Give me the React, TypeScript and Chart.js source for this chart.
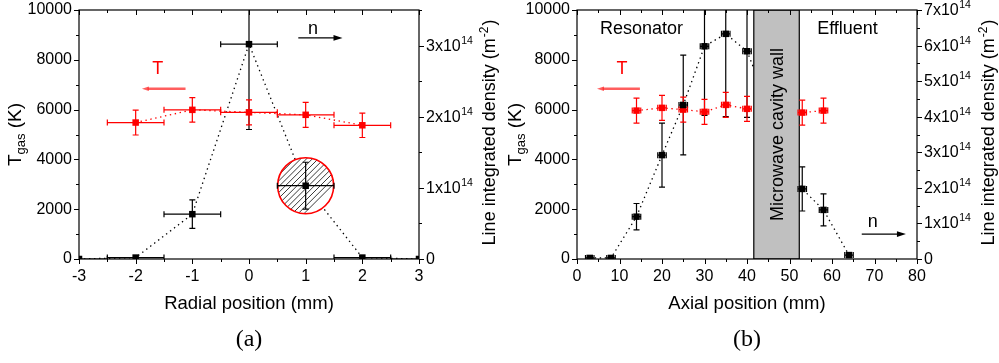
import React, { useEffect, useRef } from "react";
import { Chart, registerables } from "chart.js";
Chart.register(...registerables);

// ---------------- Panel (a): radial profile ----------------
const radialPos = [-3, -2, -1, 0, 1, 2, 3]; // mm
const radialPosErr = [0.5, 0.5, 0.5, 0.5, 0.5, 0.5, 0.5];
const radialDensity = [0, 0.02, 0.63, 3.02, 1.03, 0.02, 0]; // x1e14 m^-2
const radialDensityErr = [0, 0, 0.2, 1.2, 0.33, 0, 0];
const radialTPos = [-2, -1, 0, 1, 2];
const radialTPosErr = [0.5, 0.5, 0.5, 0.5, 0.5];
const radialT = [5480, 5990, 5890, 5790, 5370]; // K
const radialTErr = [500, 490, 500, 500, 490];

// ---------------- Panel (b): axial profile ----------------
const axialPos = [3, 8, 14, 20, 25, 30, 35, 40, 53, 58, 64]; // mm
const axialPosErr = [1, 1, 1, 1, 1, 1, 1, 1, 1, 1, 1];
const axialDensity = [0.03, 0.03, 1.19, 2.92, 4.33, 5.98, 6.33, 5.84, 1.97, 1.38, 0.11]; // x1e14 m^-2
const axialDensityErr = [0, 0, 0.37, 0.9, 1.4, 1.94, 2.33, 1.86, 0.62, 0.45, 0];
const axialTPos = [14, 20, 25, 30, 35, 40, 53, 58];
const axialTPosErr = [1, 1, 1, 1, 1, 1, 1, 1];
const axialT = [5960, 6070, 6000, 5910, 6190, 6030, 5880, 5960]; // K
const axialTErr = [500, 500, 500, 500, 500, 500, 500, 500];

// wall region (mm)
const wallRange = [41.6, 52.3];

// axes
const tempMax = 10000;
const tempStep = 2000;
const radialDensityMax = 3.5;
const axialDensityMax = 7;

const SANS = '"Liberation Sans", Arial, sans-serif';
const SERIF = '"Liberation Serif", "Times New Roman", serif';

type Txt = { text: string; x: number; y: number; color: string; align: CanvasTextAlign; size: number };
type Arrow = { x1: number; x2: number; y: number; color: string; lw: number; head: number };
type Panel = {
  width: number;
  leftW: number;
  rightW: number;
  xMin: number;
  xMax: number;
  xStep: number;
  xMinor: number;
  y2Max: number;
  xTitle: string;
  caption: string;
  nPos: number[];
  nPosErr: number[];
  n: number[];
  nErr: number[];
  tPos: number[];
  tPosErr: number[];
  t: number[];
  tErr: number[];
  texts: Txt[];
  arrows: Arrow[];
  decor: (chart: any) => void;
};

function hatchedCircle(chart: any, xv: number, yv: number) {
  const ctx = chart.ctx;
  const cx = chart.scales.x.getPixelForValue(xv);
  const cy = chart.scales.y2.getPixelForValue(yv);
  const r = 28;
  ctx.save();
  ctx.beginPath();
  ctx.arc(cx, cy, r, 0, Math.PI * 2);
  ctx.fillStyle = "#fff";
  ctx.fill();
  ctx.clip();
  ctx.strokeStyle = "#222";
  ctx.lineWidth = 0.9;
  for (let k = -2 * r; k <= 2 * r; k += 5.8) {
    ctx.beginPath();
    ctx.moveTo(cx - 2 * r + k, cy + r);
    ctx.lineTo(cx + k, cy - r);
    ctx.stroke();
  }
  ctx.restore();
  ctx.save();
  ctx.beginPath();
  ctx.arc(cx, cy, r, 0, Math.PI * 2);
  ctx.strokeStyle = "#ff0000";
  ctx.lineWidth = 1.6;
  ctx.stroke();
  ctx.restore();
}

function cavityWall(chart: any) {
  const ctx = chart.ctx;
  const a = chart.chartArea;
  const x1 = chart.scales.x.getPixelForValue(wallRange[0]);
  const x2 = chart.scales.x.getPixelForValue(wallRange[1]);
  ctx.save();
  ctx.fillStyle = "#c0c0c0";
  ctx.fillRect(x1, a.top, x2 - x1, a.bottom - a.top);
  ctx.strokeStyle = "#000";
  ctx.lineWidth = 1.2;
  ctx.strokeRect(x1, a.top, x2 - x1, a.bottom - a.top);
  ctx.translate((x1 + x2) / 2 + 1.5, (a.top + a.bottom) / 2);
  ctx.rotate(-Math.PI / 2);
  ctx.fillStyle = "#000";
  ctx.font = `18px ${SANS}`;
  ctx.textAlign = "center";
  ctx.textBaseline = "middle";
  ctx.fillText("Microwave cavity wall", 0, 0);
  ctx.restore();
}

const panelA: Panel = {
  width: 500,
  leftW: 79,
  rightW: 81,
  xMin: -3,
  xMax: 3,
  xStep: 1,
  xMinor: 0.5,
  y2Max: radialDensityMax,
  xTitle: "Radial position (mm)",
  caption: "(a)",
  nPos: radialPos,
  nPosErr: radialPosErr,
  n: radialDensity,
  nErr: radialDensityErr,
  tPos: radialTPos,
  tPosErr: radialTPosErr,
  t: radialT,
  tErr: radialTErr,
  texts: [
    { text: "T", x: -1.61, y: 7440, color: "#ff0000", align: "center", size: 18 },
    { text: "n", x: 1.13, y: 9040, color: "#000", align: "center", size: 18 },
  ],
  arrows: [
    { x1: -1.12, x2: -1.89, y: 6840, color: "rgba(255,40,40,0.75)", lw: 2.6, head: 7 },
    { x1: 0.87, x2: 1.65, y: 8880, color: "#000", lw: 1.2, head: 9 },
  ],
  decor: (chart) => hatchedCircle(chart, radialPos[4], radialDensity[4]),
};

const panelB: Panel = {
  width: 499,
  leftW: 77,
  rightW: 82,
  xMin: 0,
  xMax: 80,
  xStep: 10,
  xMinor: 5,
  y2Max: axialDensityMax,
  xTitle: "Axial position (mm)",
  caption: "(b)",
  nPos: axialPos,
  nPosErr: axialPosErr,
  n: axialDensity,
  nErr: axialDensityErr,
  tPos: axialTPos,
  tPosErr: axialTPosErr,
  t: axialT,
  tErr: axialTErr,
  texts: [
    { text: "Resonator", x: 5.4, y: 9040, color: "#000", align: "left", size: 18 },
    { text: "Effluent", x: 56.5, y: 9040, color: "#000", align: "left", size: 18 },
    { text: "T", x: 10.6, y: 7440, color: "#ff0000", align: "center", size: 18 },
    { text: "n", x: 69.6, y: 1280, color: "#000", align: "center", size: 18 },
  ],
  arrows: [
    { x1: 14.8, x2: 4.7, y: 6840, color: "rgba(255,40,40,0.75)", lw: 2.6, head: 7 },
    { x1: 67, x2: 77.4, y: 1000, color: "#000", lw: 1.2, head: 9 },
  ],
  decor: (chart) => cavityWall(chart),
};

function drawErrorBars(chart: any, xs: number[], xe: number[], ys: number[], ye: number[], yId: string, color: string) {
  const ctx = chart.ctx;
  const sx = chart.scales.x;
  const sy = chart.scales[yId];
  const cap = 3;
  ctx.save();
  ctx.strokeStyle = color;
  ctx.lineWidth = 1.2;
  for (let i = 0; i < xs.length; i++) {
    const px = sx.getPixelForValue(xs[i]);
    const py = sy.getPixelForValue(ys[i]);
    if (ye[i] > 0) {
      const y1 = sy.getPixelForValue(ys[i] + ye[i]);
      const y2 = sy.getPixelForValue(ys[i] - ye[i]);
      ctx.beginPath();
      ctx.moveTo(px, y1);
      ctx.lineTo(px, y2);
      ctx.moveTo(px - cap, y1);
      ctx.lineTo(px + cap, y1);
      ctx.moveTo(px - cap, y2);
      ctx.lineTo(px + cap, y2);
      ctx.stroke();
    }
    if (xe[i] > 0) {
      const x1 = sx.getPixelForValue(xs[i] - xe[i]);
      const x2 = sx.getPixelForValue(xs[i] + xe[i]);
      ctx.beginPath();
      ctx.moveTo(x1, py);
      ctx.lineTo(x2, py);
      ctx.moveTo(x1, py - cap);
      ctx.lineTo(x1, py + cap);
      ctx.moveTo(x2, py - cap);
      ctx.lineTo(x2, py + cap);
      ctx.stroke();
    }
  }
  ctx.restore();
}

function drawArrow(ctx: CanvasRenderingContext2D, x1: number, x2: number, y: number, color: string, lw: number, head: number) {
  const dir = Math.sign(x2 - x1);
  ctx.save();
  ctx.strokeStyle = color;
  ctx.fillStyle = color;
  ctx.lineWidth = lw;
  ctx.beginPath();
  ctx.moveTo(x1, y);
  ctx.lineTo(x2 - dir * head * 0.8, y);
  ctx.stroke();
  ctx.beginPath();
  ctx.moveTo(x2, y);
  ctx.lineTo(x2 - dir * head, y - head * 0.32);
  ctx.lineTo(x2 - dir * head, y + head * 0.32);
  ctx.closePath();
  ctx.fill();
  ctx.restore();
}

function makePlugin(p: Panel) {
  return {
    id: "panelDecor",
    afterDatasetDraw(chart: any, args: any) {
      if (args.index !== 1) return;
      const ctx = chart.ctx;
      const a = chart.chartArea;
      ctx.save();
      ctx.beginPath();
      ctx.rect(a.left, a.top, a.right - a.left, a.bottom - a.top);
      ctx.clip();
      p.decor(chart);
      drawErrorBars(chart, p.nPos, p.nPosErr, p.n, p.nErr, "y2", "#000");
      drawErrorBars(chart, p.tPos, p.tPosErr, p.t, p.tErr, "y", "#ff0000");
      ctx.restore();
    },
    afterDraw(chart: any) {
      const ctx: CanvasRenderingContext2D = chart.ctx;
      const a = chart.chartArea;
      const sx = chart.scales.x;
      const sy = chart.scales.y;
      const sy2 = chart.scales.y2;
      ctx.save();
      // frame
      ctx.strokeStyle = "#000";
      ctx.lineWidth = 1.2;
      ctx.strokeRect(a.left, a.top, a.right - a.left, a.bottom - a.top);
      ctx.lineWidth = 1;
      const seg = (x1: number, y1: number, x2: number, y2: number) => {
        ctx.beginPath();
        ctx.moveTo(x1, y1);
        ctx.lineTo(x2, y2);
        ctx.stroke();
      };
      // x ticks (bottom outward, top inward)
      const nx = Math.round((p.xMax - p.xMin) / p.xMinor);
      for (let i = 0; i <= nx; i++) {
        const v = p.xMin + i * p.xMinor;
        const px = Math.round(sx.getPixelForValue(v)) + 0.5;
        const major = Math.abs(v / p.xStep - Math.round(v / p.xStep)) < 1e-6;
        const L = major ? 5 : 3;
        seg(px, a.bottom, px, a.bottom + L);
        seg(px, a.top, px, a.top + L);
      }
      // left ticks
      for (let v = 0; v <= tempMax; v += tempStep / 2) {
        const py = Math.round(sy.getPixelForValue(v)) + 0.5;
        const major = v % tempStep === 0;
        seg(a.left - (major ? 5 : 3), py, a.left, py);
      }
      // right ticks + labels
      const ny = Math.round(p.y2Max / 0.5);
      ctx.fillStyle = "#000";
      for (let i = 0; i <= ny; i++) {
        const v = i * 0.5;
        const py = Math.round(sy2.getPixelForValue(v)) + 0.5;
        const major = i % 2 === 0;
        seg(a.right, py, a.right + (major ? 5 : 3), py);
        if (major) {
          const lx = a.right + 7;
          ctx.textAlign = "left";
          ctx.textBaseline = "middle";
          ctx.font = `16px ${SANS}`;
          if (v === 0) {
            ctx.fillText("0", lx, py);
          } else {
            const main = `${v}x10`;
            ctx.fillText(main, lx, py);
            const w = ctx.measureText(main).width;
            ctx.font = `10.5px ${SANS}`;
            ctx.textBaseline = "alphabetic";
            ctx.fillText("14", lx + w + 0.5, py - 3);
          }
        }
      }
      // left title: T_gas (K)
      {
        ctx.save();
        ctx.translate(21, (a.top + a.bottom) / 2);
        ctx.rotate(-Math.PI / 2);
        ctx.textBaseline = "alphabetic";
        ctx.textAlign = "left";
        const f1 = `19px ${SANS}`;
        const f2 = `13px ${SANS}`;
        ctx.font = f1;
        const wT = ctx.measureText("T").width;
        const wK = ctx.measureText(" (K)").width;
        ctx.font = f2;
        const wG = ctx.measureText("gas").width;
        const x0 = -(wT + wG + wK) / 2;
        ctx.font = f1;
        ctx.fillText("T", x0, 0);
        ctx.font = f2;
        ctx.fillText("gas", x0 + wT, 4);
        ctx.font = f1;
        ctx.fillText(" (K)", x0 + wT + wG, 0);
        ctx.restore();
      }
      // right title
      {
        ctx.save();
        ctx.translate(chart.width - 5, (a.top + a.bottom) / 2 - 2);
        ctx.rotate(-Math.PI / 2);
        ctx.textBaseline = "alphabetic";
        ctx.textAlign = "left";
        const f1 = `18px ${SANS}`;
        const f2 = `12px ${SANS}`;
        const s1 = "Line integrated density (m";
        const s2 = "-2";
        const s3 = ")";
        ctx.font = f1;
        const w1 = ctx.measureText(s1).width;
        const w3 = ctx.measureText(s3).width;
        ctx.font = f2;
        const w2 = ctx.measureText(s2).width;
        const x0 = -(w1 + w2 + w3 + 2) / 2;
        ctx.font = f1;
        ctx.fillText(s1, x0, 0);
        ctx.font = f2;
        ctx.fillText(s2, x0 + w1 + 1, -7);
        ctx.font = f1;
        ctx.fillText(s3, x0 + w1 + w2 + 2, 0);
        ctx.restore();
      }
      // x title
      const cxm = (a.left + a.right) / 2;
      ctx.fillStyle = "#000";
      ctx.font = `18.5px ${SANS}`;
      ctx.textAlign = "center";
      ctx.textBaseline = "alphabetic";
      ctx.fillText(p.xTitle, cxm, 308.5);
      // caption
      ctx.font = `24px ${SERIF}`;
      ctx.textBaseline = "middle";
      ctx.fillText(p.caption, cxm, 340);
      // annotations
      for (const t of p.texts) {
        ctx.font = `${t.size}px ${SANS}`;
        ctx.fillStyle = t.color;
        ctx.textAlign = t.align;
        ctx.textBaseline = "alphabetic";
        ctx.fillText(t.text, sx.getPixelForValue(t.x), sy.getPixelForValue(t.y));
      }
      for (const ar of p.arrows) {
        drawArrow(ctx, sx.getPixelForValue(ar.x1), sx.getPixelForValue(ar.x2), sy.getPixelForValue(ar.y), ar.color, ar.lw, ar.head);
      }
      ctx.restore();
    },
  };
}

function buildConfig(p: Panel): any {
  const nPts = p.nPos.map((x, i) => ({ x, y: p.n[i] }));
  const tPts = p.tPos.map((x, i) => ({ x, y: p.t[i] }));
  const tickFont = { family: SANS, size: 16 };
  const noPadY = (s: any, w: number) => {
    s.width = w;
    s.paddingTop = 0;
    s.paddingBottom = 0;
  };
  return {
    type: "scatter",
    data: {
      datasets: [
        { data: tPts, showLine: true, borderColor: "#ff0000", borderWidth: 1.3, borderDash: [1.4, 3.6], pointRadius: 0, yAxisID: "y", order: 5 },
        { data: nPts, showLine: true, borderColor: "#000", borderWidth: 1.3, borderDash: [1.4, 3.6], pointRadius: 0, yAxisID: "y2", order: 4 },
        { data: tPts, showLine: false, pointStyle: "rect", pointRadius: 4.6, backgroundColor: "#ff0000", borderColor: "#ff0000", borderWidth: 0, yAxisID: "y", order: 2 },
        { data: nPts, showLine: false, pointStyle: "rect", pointRadius: 4.6, backgroundColor: "#000", borderColor: "#000", borderWidth: 0, yAxisID: "y2", order: 1 },
      ],
    },
    options: {
      responsive: false,
      animation: false,
      devicePixelRatio: 1,
      events: [],
      layout: { padding: { top: 10, left: 0, right: 0, bottom: 0 } },
      plugins: { legend: { display: false }, tooltip: { enabled: false } },
      scales: {
        x: {
          type: "linear",
          position: "bottom",
          min: p.xMin,
          max: p.xMax,
          afterFit: (s: any) => {
            s.height = 104;
            s.paddingLeft = 0;
            s.paddingRight = 0;
          },
          grid: { display: false, drawTicks: false },
          border: { display: false },
          ticks: { stepSize: p.xStep, padding: 8, color: "#000", font: tickFont, maxRotation: 0, callback: (v: any) => String(v) },
        },
        y: {
          type: "linear",
          position: "left",
          min: 0,
          max: tempMax,
          afterFit: (s: any) => noPadY(s, p.leftW),
          grid: { display: false, drawTicks: false },
          border: { display: false },
          ticks: { stepSize: tempStep, padding: 7, color: "#000", font: tickFont, callback: (v: any) => String(v) },
        },
        y2: {
          type: "linear",
          position: "right",
          min: 0,
          max: p.y2Max,
          afterFit: (s: any) => noPadY(s, p.rightW),
          grid: { display: false, drawTicks: false },
          border: { display: false },
          ticks: { display: false, stepSize: 1 },
        },
      },
    },
    plugins: [makePlugin(p)],
  };
}

function PanelChart({ panel }: { panel: Panel }) {
  const ref = useRef<HTMLCanvasElement>(null);
  useEffect(() => {
    if (!ref.current) return;
    const chart = new Chart(ref.current, buildConfig(panel));
    return () => chart.destroy();
  }, [panel]);
  return (
    <canvas
      ref={ref}
      width={panel.width}
      height={363}
      style={{ display: "block", width: panel.width, height: 363 }}
    />
  );
}

export default function App() {
  return (
    <div style={{ position: "fixed", left: 0, top: 0, width: 999, height: 363, display: "flex", background: "#fff" }}>
      <PanelChart panel={panelA} />
      <PanelChart panel={panelB} />
    </div>
  );
}
